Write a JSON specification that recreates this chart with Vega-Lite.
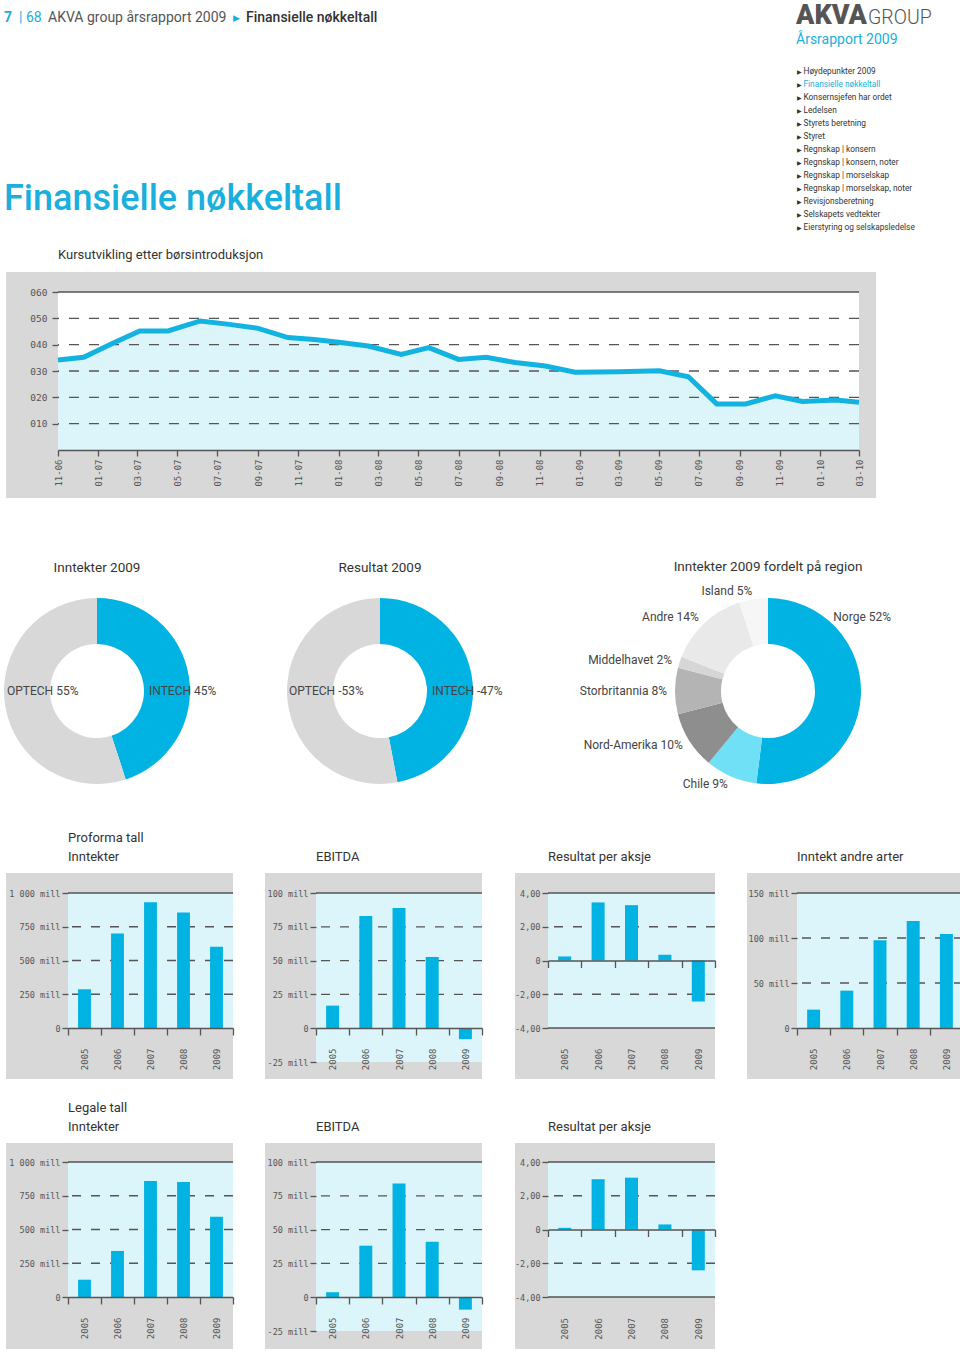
{
"$schema": "https://vega.github.io/schema/vega-lite/v6.json",
"background": "white",
"padding": {"left": 4, "top": 0, "right": 0, "bottom": 0},
"config": {
  "view": {"stroke": null},
  "font": "Roboto",
  "axis": {"labelFont": "DejaVu Sans Mono", "labelColor": "#555555", "tickColor": "#555555", "domainColor": "#555555", "tickWidth": 1.3, "zindex": 1, "grid": false, "labelOverlap": false, "labelFlush": false, "labelBound": false},
  "title": {"font": "Roboto", "fontSize": 13, "color": "#333333", "fontWeight": "normal", "anchor": "start", "frame": "group"},
  "text": {"font": "Roboto"}
},
"datasets": {
  "kurs": [
    {"dato": "2006-11-01", "kurs": 34.2}, {"dato": "2006-12-10", "kurs": 35.2}, {"dato": "2007-01-24", "kurs": 40.6},
    {"dato": "2007-03-05", "kurs": 45.2}, {"dato": "2007-04-17", "kurs": 45.2}, {"dato": "2007-06-05", "kurs": 49.0},
    {"dato": "2007-07-16", "kurs": 47.8}, {"dato": "2007-09-01", "kurs": 46.2}, {"dato": "2007-10-16", "kurs": 42.7},
    {"dato": "2007-11-25", "kurs": 42.0}, {"dato": "2008-01-01", "kurs": 40.9}, {"dato": "2008-02-15", "kurs": 39.5},
    {"dato": "2008-04-05", "kurs": 36.3}, {"dato": "2008-05-17", "kurs": 38.9}, {"dato": "2008-07-01", "kurs": 34.4},
    {"dato": "2008-08-12", "kurs": 35.2}, {"dato": "2008-09-25", "kurs": 33.2}, {"dato": "2008-11-10", "kurs": 31.9},
    {"dato": "2008-12-25", "kurs": 29.5}, {"dato": "2009-03-01", "kurs": 29.7}, {"dato": "2009-05-02", "kurs": 30.1},
    {"dato": "2009-06-15", "kurs": 27.8}, {"dato": "2009-07-28", "kurs": 17.5}, {"dato": "2009-09-10", "kurs": 17.5},
    {"dato": "2009-10-25", "kurs": 20.6}, {"dato": "2009-12-05", "kurs": 18.4}, {"dato": "2010-01-25", "kurs": 19.0},
    {"dato": "2010-03-01", "kurs": 18.1}
  ],
  "meny": [
    {"punkt": "Høydepunkter 2009"}, {"punkt": "Finansielle nøkkeltall"}, {"punkt": "Konsernsjefen har ordet"},
    {"punkt": "Ledelsen"}, {"punkt": "Styrets beretning"}, {"punkt": "Styret"}, {"punkt": "Regnskap | konsern"},
    {"punkt": "Regnskap | konsern, noter"}, {"punkt": "Regnskap | morselskap"}, {"punkt": "Regnskap | morselskap, noter"},
    {"punkt": "Revisjonsberetning"}, {"punkt": "Selskapets vedtekter"}, {"punkt": "Eierstyring og selskapsledelse"}
  ],
  "inntekter2009": [
    {"segment": "INTECH", "andel": 45, "etikett": "INTECH 45%"},
    {"segment": "OPTECH", "andel": 55, "etikett": "OPTECH 55%"}
  ],
  "resultat2009": [
    {"segment": "INTECH", "andel": 47, "etikett": "INTECH -47%"},
    {"segment": "OPTECH", "andel": 53, "etikett": "OPTECH -53%"}
  ],
  "region": [
    {"region": "Norge", "andel": 52, "etikett": "Norge 52%"},
    {"region": "Chile", "andel": 9, "etikett": "Chile 9%"},
    {"region": "Nord-Amerika", "andel": 10, "etikett": "Nord-Amerika 10%"},
    {"region": "Storbritannia", "andel": 8, "etikett": "Storbritannia 8%"},
    {"region": "Middelhavet", "andel": 2, "etikett": "Middelhavet 2%"},
    {"region": "Andre", "andel": 14, "etikett": "Andre 14%"},
    {"region": "Island", "andel": 5, "etikett": "Island 5%"}
  ],
  "proInntekter": [{"aar": "2005", "verdi": 287}, {"aar": "2006", "verdi": 700}, {"aar": "2007", "verdi": 931}, {"aar": "2008", "verdi": 855}, {"aar": "2009", "verdi": 602}],
  "proEbitda": [{"aar": "2005", "verdi": 16.7}, {"aar": "2006", "verdi": 83.0}, {"aar": "2007", "verdi": 88.9}, {"aar": "2008", "verdi": 52.6}, {"aar": "2009", "verdi": -8.1}],
  "proEps": [{"aar": "2005", "verdi": 0.24}, {"aar": "2006", "verdi": 3.44}, {"aar": "2007", "verdi": 3.28}, {"aar": "2008", "verdi": 0.34}, {"aar": "2009", "verdi": -2.43}],
  "proAndre": [{"aar": "2005", "verdi": 20.4}, {"aar": "2006", "verdi": 41.5}, {"aar": "2007", "verdi": 97.4}, {"aar": "2008", "verdi": 118.9}, {"aar": "2009", "verdi": 104.4}],
  "legInntekter": [{"aar": "2005", "verdi": 128}, {"aar": "2006", "verdi": 341}, {"aar": "2007", "verdi": 859}, {"aar": "2008", "verdi": 852}, {"aar": "2009", "verdi": 595}],
  "legEbitda": [{"aar": "2005", "verdi": 3.7}, {"aar": "2006", "verdi": 38.1}, {"aar": "2007", "verdi": 84.1}, {"aar": "2008", "verdi": 41.0}, {"aar": "2009", "verdi": -9.2}],
  "legEps": [{"aar": "2005", "verdi": 0.1}, {"aar": "2006", "verdi": 2.98}, {"aar": "2007", "verdi": 3.07}, {"aar": "2008", "verdi": 0.3}, {"aar": "2009", "verdi": -2.42}]
},
"spacing": 22,
"vconcat": [
 {"spacing": 42, "vconcat": [
  {"spacing": 61, "vconcat": [
   {"spacing": 14, "vconcat": [
    {"spacing": 12, "hconcat": [
     {"spacing": 156, "vconcat": [
      {"spacing": 6, "hconcat": [
       {"width": 1, "height": 8, "data": {"values": []}, "mark": "point", "title": {"text": "7", "orient": "bottom", "baseline": "top", "offset": 3, "fontSize": 14, "fontWeight": "bold", "color": "#1aafdc"}},
       {"width": 1, "height": 8, "data": {"values": []}, "mark": "point", "title": {"text": "| 68", "orient": "bottom", "baseline": "top", "offset": 3, "fontSize": 14, "color": "#1aafdc"}},
       {"width": 1, "height": 8, "data": {"values": []}, "mark": "point", "title": {"text": "AKVA group årsrapport 2009", "orient": "bottom", "baseline": "top", "offset": 3, "fontSize": 14, "color": "#555555"}},
       {"width": 1, "height": 8, "data": {"values": []}, "mark": "point", "title": {"text": "▶", "orient": "bottom", "baseline": "top", "offset": 6, "fontSize": 9, "color": "#1aafdc"}},
       {"width": 1, "height": 8, "data": {"values": []}, "mark": "point", "title": {"text": "Finansielle nøkkeltall", "orient": "bottom", "baseline": "top", "offset": 3, "fontSize": 14, "fontWeight": 500, "color": "#333333"}}
      ]},
      {"width": 780, "height": 1, "data": {"values": []}, "mark": "point", "title": {"text": "Finansielle nøkkeltall", "fontSize": 36, "fontWeight": 500, "color": "#1aafdc", "offset": 2}}
     ]},
     {"spacing": 4, "vconcat": [
      {"spacing": 1, "hconcat": [
       {"width": 1, "height": 1, "data": {"values": []}, "mark": "point", "title": {"text": "AKVA", "orient": "bottom", "baseline": "top", "fontSize": 27, "fontWeight": 900, "color": "#555555", "offset": 2}},
       {"width": 1, "height": 1, "data": {"values": []}, "mark": "point", "title": {"text": "GROUP", "orient": "bottom", "baseline": "top", "fontSize": 19.5, "fontWeight": 300, "color": "#555555", "offset": 7.5}}
      ]},
      {"width": 1, "height": 169,
       "title": {"text": "Årsrapport 2009", "fontSize": 14, "color": "#1aafdc", "offset": 18},
       "data": {"name": "meny"},
       "layer": [
        {"mark": {"type": "text", "text": "▶", "fontSize": 6, "align": "left", "baseline": "middle", "color": "#333333"},
         "encoding": {"y": {"field": "punkt", "type": "nominal", "sort": null, "axis": null}}},
        {"mark": {"type": "text", "fontSize": 8.3, "align": "left", "baseline": "middle", "dx": 7},
         "encoding": {"y": {"field": "punkt", "type": "nominal", "sort": null, "axis": null},
                      "text": {"field": "punkt", "type": "nominal"},
                      "color": {"condition": {"test": "datum.punkt == 'Finansielle nøkkeltall'", "value": "#1aafdc"}, "value": "#333333"}}}
       ]}
     ]}
    ]},
    {"spacing": 0, "hconcat": [
     {"width": 1, "height": 1, "data": {"values": []}, "mark": "point"},
     {"width": 801, "height": 158,
      "title": {"text": "Kursutvikling etter børsintroduksjon", "offset": 10, "fontSize": 13},
      "layer": [
       {"data": {"values": [{}]}, "mark": {"type": "rect", "color": "#d8d8d8"},
        "encoding": {
         "x": {"datum": {"year": 2006, "month": 8, "date": 14, "utc": true}, "type": "temporal", "title": null,
               "scale": {"type": "utc", "nice": false, "domain": [{"year": 2006, "month": 11, "date": 1, "utc": true}, {"year": 2010, "month": 3, "date": 1, "utc": true}]}},
         "x2": {"datum": {"year": 2010, "month": 3, "date": 27, "utc": true}},
         "y": {"datum": -18.2, "type": "quantitative", "title": null, "scale": {"domain": [0, 60], "nice": false}},
         "y2": {"datum": 67.6}}},
       {"data": {"values": [{}]}, "mark": {"type": "rect", "color": "#ffffff"},
        "encoding": {"y": {"datum": 0, "type": "quantitative"}, "y2": {"datum": 60}}},
       {"data": {"name": "kurs"}, "mark": {"type": "area", "color": "#dcf5fa"},
        "encoding": {"x": {"field": "dato", "type": "temporal", "title": null}, "y": {"field": "kurs", "type": "quantitative", "title": null}}},
       {"data": {"values": [{}]}, "mark": {"type": "rule", "color": "#555555", "strokeWidth": 1.3, "strokeDash": [10, 10]}, "encoding": {"y": {"datum": 10}}},
       {"data": {"values": [{}]}, "mark": {"type": "rule", "color": "#555555", "strokeWidth": 1.3, "strokeDash": [10, 10]}, "encoding": {"y": {"datum": 20}}},
       {"data": {"values": [{}]}, "mark": {"type": "rule", "color": "#555555", "strokeWidth": 1.3, "strokeDash": [10, 10]}, "encoding": {"y": {"datum": 30}}},
       {"data": {"values": [{}]}, "mark": {"type": "rule", "color": "#555555", "strokeWidth": 1.3, "strokeDash": [10, 10]}, "encoding": {"y": {"datum": 40}}},
       {"data": {"values": [{}]}, "mark": {"type": "rule", "color": "#555555", "strokeWidth": 1.3, "strokeDash": [10, 10]}, "encoding": {"y": {"datum": 50}}},
       {"data": {"values": [{}]}, "mark": {"type": "rule", "color": "#555555", "strokeWidth": 1.5}, "encoding": {"y": {"datum": 60}}},
       {"data": {"name": "kurs"}, "mark": {"type": "line", "color": "#12b3e1", "strokeWidth": 5},
        "encoding": {
         "x": {"field": "dato", "type": "temporal",
               "scale": {"type": "utc", "nice": false, "domain": [{"year": 2006, "month": 11, "date": 1, "utc": true}, {"year": 2010, "month": 3, "date": 1, "utc": true}]},
               "axis": {"zindex": 1, "labelExpr": "utcFormat(datum.value, '%m-%y')", "tickCount": {"interval": "month", "step": 2}, "labelAngle": 270, "labelPadding": 3, "tickSize": 6, "labelFontSize": 9, "domainWidth": 1.5, "labelFlush": false, "labelOverlap": false, "labelBound": false, "title": null}},
         "y": {"field": "kurs", "type": "quantitative", "scale": {"domain": [0, 60], "nice": false},
               "axis": {"zindex": 1, "values": [10, 20, 30, 40, 50, 60], "tickCount": 50, "format": "03d", "tickSize": 6, "labelPadding": 5, "domain": false, "labelFontSize": 9.5, "title": null}}}}
      ]}
    ]}
   ]},
   {"spacing": 0, "bounds": "flush", "resolve": {"scale": {"color": "independent", "theta": "independent"}}, "hconcat": [
    {"width": 186, "height": 188,
     "title": {"text": "Inntekter 2009", "anchor": "middle", "offset": 23, "fontSize": 13.5},
     "data": {"name": "inntekter2009"},
     "transform": [{"window": [{"op": "row_number", "as": "rekke"}]}],
     "layer": [
      {"mark": {"type": "arc", "outerRadius": 93, "innerRadius": 47},
       "encoding": {"theta": {"field": "andel", "type": "quantitative", "stack": true}, "order": {"field": "rekke", "type": "quantitative"},
                    "color": {"field": "segment", "type": "nominal", "scale": {"domain": ["INTECH", "OPTECH"], "range": ["#00b3e2", "#d8d8d8"]}, "legend": null}}},
      {"transform": [{"filter": "datum.segment == 'OPTECH'"}],
       "mark": {"type": "text", "theta": 4.7124, "radius": 90, "align": "left", "baseline": "middle", "fontSize": 12, "color": "#444444"},
       "encoding": {"text": {"field": "etikett", "type": "nominal"}}},
      {"transform": [{"filter": "datum.segment == 'INTECH'"}],
       "mark": {"type": "text", "theta": 1.5708, "radius": 52, "align": "left", "baseline": "middle", "fontSize": 12, "color": "#444444"},
       "encoding": {"text": {"field": "etikett", "type": "nominal"}}}
     ]},
    {"width": 380, "height": 188,
     "title": {"text": "Resultat 2009", "anchor": "middle", "offset": 23, "fontSize": 13.5},
     "data": {"name": "resultat2009"},
     "transform": [{"window": [{"op": "row_number", "as": "rekke"}]}],
     "layer": [
      {"mark": {"type": "arc", "outerRadius": 93, "innerRadius": 47},
       "encoding": {"theta": {"field": "andel", "type": "quantitative", "stack": true}, "order": {"field": "rekke", "type": "quantitative"},
                    "color": {"field": "segment", "type": "nominal", "scale": {"domain": ["INTECH", "OPTECH"], "range": ["#00b3e2", "#d8d8d8"]}, "legend": null}}},
      {"transform": [{"filter": "datum.segment == 'OPTECH'"}],
       "mark": {"type": "text", "theta": 4.7124, "radius": 91, "align": "left", "baseline": "middle", "fontSize": 12, "color": "#444444"},
       "encoding": {"text": {"field": "etikett", "type": "nominal"}}},
      {"transform": [{"filter": "datum.segment == 'INTECH'"}],
       "mark": {"type": "text", "theta": 1.5708, "radius": 52, "align": "left", "baseline": "middle", "fontSize": 12, "color": "#444444"},
       "encoding": {"text": {"field": "etikett", "type": "nominal"}}}
     ]},
    {"width": 396, "height": 188,
     "title": {"text": "Inntekter 2009 fordelt på region", "anchor": "middle", "offset": 12, "fontSize": 13.5},
     "data": {"name": "region"},
     "transform": [{"window": [{"op": "row_number", "as": "rekke"}]}],
     "layer": [
      {"mark": {"type": "arc", "outerRadius": 93, "innerRadius": 47},
       "encoding": {"theta": {"field": "andel", "type": "quantitative", "stack": true}, "order": {"field": "rekke", "type": "quantitative"},
                    "color": {"field": "region", "type": "nominal", "legend": null,
                              "scale": {"domain": ["Norge", "Chile", "Nord-Amerika", "Storbritannia", "Middelhavet", "Andre", "Island"],
                                        "range": ["#00b3e2", "#6fe0f5", "#8e8e8e", "#b4b4b4", "#d6d6d6", "#e9e9e9", "#f6f6f6"]}}}},
      {"mark": {"type": "text", "radius": 101, "align": "right", "baseline": "middle", "fontSize": 12, "color": "#444444"},
       "encoding": {"theta": {"field": "andel", "type": "quantitative", "stack": true}, "order": {"field": "rekke", "type": "quantitative"},
                    "text": {"condition": {"test": "datum.region == 'Norge'", "value": ""}, "field": "etikett", "type": "nominal"}}},
      {"transform": [{"filter": "datum.region == 'Norge'"}],
       "mark": {"type": "text", "theta": 0.72, "radius": 99, "align": "left", "baseline": "middle", "fontSize": 12, "color": "#444444"},
       "encoding": {"text": {"field": "etikett", "type": "nominal"}}}
     ]}
   ]}
  ]},
  {"spacing": 0, "hconcat": [
   {"width": 1, "height": 1, "data": {"values": []}, "mark": "point"},
   {"spacing": 31, "hconcat": [
   {"width": 165, "height": 135,
    "title": {"text": ["Proforma tall", "Inntekter"], "offset": 9, "lineHeight": 19},
    "resolve": {"scale": {"x": "independent"}},
    "layer": [
     {"data": {"values": [{}]}, "mark": {"type": "rect", "color": "#d8d8d8"},
      "encoding": {"x": {"datum": -0.3758, "type": "quantitative", "scale": {"domain": [0, 1]}, "axis": null}, "x2": {"datum": 1},
                   "y": {"datum": -377.8, "type": "quantitative", "title": null, "scale": {"domain": [0, 1000], "nice": false}}, "y2": {"datum": 1148.1}}},
     {"data": {"values": [{}]}, "mark": {"type": "rect", "color": "#dcf5fa"}, "encoding": {"y": {"datum": 0, "type": "quantitative"}, "y2": {"datum": 1000}}},
     {"data": {"values": [{}]}, "mark": {"type": "rule", "color": "#555555", "strokeWidth": 1.3, "strokeDash": [9, 10]}, "encoding": {"y": {"datum": 250}}},
     {"data": {"values": [{}]}, "mark": {"type": "rule", "color": "#555555", "strokeWidth": 1.3, "strokeDash": [9, 10]}, "encoding": {"y": {"datum": 500}}},
     {"data": {"values": [{}]}, "mark": {"type": "rule", "color": "#555555", "strokeWidth": 1.3, "strokeDash": [9, 10]}, "encoding": {"y": {"datum": 750}}},
     {"data": {"values": [{}]}, "mark": {"type": "rule", "color": "#555555", "strokeWidth": 1.5}, "encoding": {"y": {"datum": 1000}}},
     {"data": {"name": "proInntekter"}, "mark": {"type": "bar", "color": "#00b3e2", "width": {"band": 0.39}},
      "encoding": {
       "x": {"field": "aar", "type": "ordinal", "scale": {"paddingInner": 0, "paddingOuter": 0},
             "axis": {"zindex": 1, "tickBand": "extent", "tickSize": 7, "labelAngle": 270, "labelPadding": 13, "labelFontSize": 9, "domainWidth": 1.5, "title": null}},
       "y": {"field": "verdi", "type": "quantitative", "scale": {"domain": [0, 1000], "nice": false},
             "axis": {"zindex": 1, "values": [0, 250, 500, 750, 1000], "tickCount": 50, "labelExpr": "datum.value == 0 ? '0' : replace(format(datum.value, ','), ',', ' ') + ' mill'", "tickSize": 6, "labelPadding": 2, "domain": false, "labelFontSize": 8.5, "title": null}}}}
    ]},
   {"width": 166, "height": 169,
    "title": {"text": "EBITDA", "offset": 9},
    "resolve": {"scale": {"x": "independent"}},
    "layer": [
     {"data": {"values": [{}]}, "mark": {"type": "rect", "color": "#d8d8d8"},
      "encoding": {"x": {"datum": -0.3072, "type": "quantitative", "scale": {"domain": [0, 1]}, "axis": null}, "x2": {"datum": 1},
                   "y": {"datum": -37.6, "type": "quantitative", "title": null, "scale": {"domain": [-25, 100], "nice": false}}, "y2": {"datum": 114.8}}},
     {"data": {"values": [{}]}, "mark": {"type": "rect", "color": "#dcf5fa"}, "encoding": {"y": {"datum": -25, "type": "quantitative"}, "y2": {"datum": 100}}},
     {"data": {"values": [{}]}, "mark": {"type": "rule", "color": "#555555", "strokeWidth": 1.3, "strokeDash": [9, 10]}, "encoding": {"y": {"datum": 25}}},
     {"data": {"values": [{}]}, "mark": {"type": "rule", "color": "#555555", "strokeWidth": 1.3, "strokeDash": [9, 10]}, "encoding": {"y": {"datum": 50}}},
     {"data": {"values": [{}]}, "mark": {"type": "rule", "color": "#555555", "strokeWidth": 1.3, "strokeDash": [9, 10]}, "encoding": {"y": {"datum": 75}}},
     {"data": {"values": [{}]}, "mark": {"type": "rule", "color": "#555555", "strokeWidth": 1.5}, "encoding": {"y": {"datum": 100}}},
     {"data": {"name": "proEbitda"}, "mark": {"type": "bar", "color": "#00b3e2", "width": {"band": 0.39}},
      "encoding": {
       "x": {"field": "aar", "type": "ordinal", "scale": {"paddingInner": 0, "paddingOuter": 0},
             "axis": {"zindex": 1, "tickBand": "extent", "tickSize": 7, "labelAngle": 270, "labelPadding": 13, "labelFontSize": 9, "domainWidth": 1.5, "offset": -34, "title": null}},
       "y": {"field": "verdi", "type": "quantitative", "scale": {"domain": [-25, 100], "nice": false},
             "axis": {"zindex": 1, "values": [-25, 0, 25, 50, 75, 100], "tickCount": 50, "labelExpr": "datum.value == 0 ? '0' : datum.value + ' mill'", "tickSize": 6, "labelPadding": 2, "domain": false, "labelFontSize": 8.5, "title": null}}}}
    ]},
   {"width": 167, "height": 135,
    "title": {"text": "Resultat per aksje", "offset": 9},
    "resolve": {"scale": {"x": "independent"}},
    "layer": [
     {"data": {"values": [{}]}, "mark": {"type": "rect", "color": "#d8d8d8"},
      "encoding": {"x": {"datum": -0.1976, "type": "quantitative", "scale": {"domain": [0, 1]}, "axis": null}, "x2": {"datum": 1},
                   "y": {"datum": -7.022, "type": "quantitative", "title": null, "scale": {"domain": [-4, 4], "nice": false}}, "y2": {"datum": 5.185}}},
     {"data": {"values": [{}]}, "mark": {"type": "rect", "color": "#dcf5fa"}, "encoding": {"y": {"datum": -4, "type": "quantitative"}, "y2": {"datum": 4}}},
     {"data": {"values": [{}]}, "mark": {"type": "rule", "color": "#555555", "strokeWidth": 1.3, "strokeDash": [9, 10]}, "encoding": {"y": {"datum": -2}}},
     {"data": {"values": [{}]}, "mark": {"type": "rule", "color": "#555555", "strokeWidth": 1.3, "strokeDash": [9, 10]}, "encoding": {"y": {"datum": 2}}},
     {"data": {"values": [{}]}, "mark": {"type": "rule", "color": "#555555", "strokeWidth": 1.5}, "encoding": {"y": {"datum": 4}}},
     {"data": {"values": [{}]}, "mark": {"type": "rule", "color": "#555555", "strokeWidth": 1.5}, "encoding": {"y": {"datum": -4}}},
     {"data": {"name": "proEps"}, "mark": {"type": "bar", "color": "#00b3e2", "width": {"band": 0.39}},
      "encoding": {
       "x": {"field": "aar", "type": "ordinal", "scale": {"paddingInner": 0, "paddingOuter": 0},
             "axis": {"zindex": 1, "tickBand": "extent", "tickSize": 7, "labelAngle": 270, "labelPadding": 80.5, "labelFontSize": 9, "domainWidth": 1.5, "offset": -67.5, "title": null}},
       "y": {"field": "verdi", "type": "quantitative", "scale": {"domain": [-4, 4], "nice": false},
             "axis": {"zindex": 1, "values": [-4, -2, 0, 2, 4], "tickCount": 50, "labelExpr": "datum.value == 0 ? '0' : replace(replace(format(datum.value, '.2f'), '.', ','), '\u2212', '-')", "tickSize": 6, "labelPadding": 2, "domain": false, "labelFontSize": 8.5, "title": null}}}}
    ]},
   {"width": 166, "height": 135,
    "title": {"text": "Inntekt andre arter", "offset": 9},
    "resolve": {"scale": {"x": "independent"}},
    "layer": [
     {"data": {"values": [{}]}, "mark": {"type": "rect", "color": "#d8d8d8"},
      "encoding": {"x": {"datum": -0.3012, "type": "quantitative", "scale": {"domain": [0, 1]}, "axis": null}, "x2": {"datum": 1},
                   "y": {"datum": -56.7, "type": "quantitative", "title": null, "scale": {"domain": [0, 150], "nice": false}}, "y2": {"datum": 172.2}}},
     {"data": {"values": [{}]}, "mark": {"type": "rect", "color": "#dcf5fa"}, "encoding": {"y": {"datum": 0, "type": "quantitative"}, "y2": {"datum": 150}}},
     {"data": {"values": [{}]}, "mark": {"type": "rule", "color": "#555555", "strokeWidth": 1.3, "strokeDash": [9, 10]}, "encoding": {"y": {"datum": 50}}},
     {"data": {"values": [{}]}, "mark": {"type": "rule", "color": "#555555", "strokeWidth": 1.3, "strokeDash": [9, 10]}, "encoding": {"y": {"datum": 100}}},
     {"data": {"values": [{}]}, "mark": {"type": "rule", "color": "#555555", "strokeWidth": 1.5}, "encoding": {"y": {"datum": 150}}},
     {"data": {"name": "proAndre"}, "mark": {"type": "bar", "color": "#00b3e2", "width": {"band": 0.39}},
      "encoding": {
       "x": {"field": "aar", "type": "ordinal", "scale": {"paddingInner": 0, "paddingOuter": 0},
             "axis": {"zindex": 1, "tickBand": "extent", "tickSize": 7, "labelAngle": 270, "labelPadding": 13, "labelFontSize": 9, "domainWidth": 1.5, "title": null}},
       "y": {"field": "verdi", "type": "quantitative", "scale": {"domain": [0, 150], "nice": false},
             "axis": {"zindex": 1, "values": [0, 50, 100, 150], "tickCount": 50, "labelExpr": "datum.value == 0 ? '0' : datum.value + ' mill'", "tickSize": 6, "labelPadding": 2, "domain": false, "labelFontSize": 8.5, "title": null}}}}
    ]}
   ]}
  ]}
 ]},
 {"spacing": 0, "hconcat": [
  {"width": 1, "height": 1, "data": {"values": []}, "mark": "point"},
  {"spacing": 31, "hconcat": [
  {"width": 165, "height": 135,
   "title": {"text": ["Legale tall", "Inntekter"], "offset": 9, "lineHeight": 19},
   "resolve": {"scale": {"x": "independent"}},
   "layer": [
    {"data": {"values": [{}]}, "mark": {"type": "rect", "color": "#d8d8d8"},
     "encoding": {"x": {"datum": -0.3758, "type": "quantitative", "scale": {"domain": [0, 1]}, "axis": null}, "x2": {"datum": 1},
                  "y": {"datum": -385.2, "type": "quantitative", "title": null, "scale": {"domain": [0, 1000], "nice": false}}, "y2": {"datum": 1140.7}}},
    {"data": {"values": [{}]}, "mark": {"type": "rect", "color": "#dcf5fa"}, "encoding": {"y": {"datum": 0, "type": "quantitative"}, "y2": {"datum": 1000}}},
    {"data": {"values": [{}]}, "mark": {"type": "rule", "color": "#555555", "strokeWidth": 1.3, "strokeDash": [9, 10]}, "encoding": {"y": {"datum": 250}}},
    {"data": {"values": [{}]}, "mark": {"type": "rule", "color": "#555555", "strokeWidth": 1.3, "strokeDash": [9, 10]}, "encoding": {"y": {"datum": 500}}},
    {"data": {"values": [{}]}, "mark": {"type": "rule", "color": "#555555", "strokeWidth": 1.3, "strokeDash": [9, 10]}, "encoding": {"y": {"datum": 750}}},
    {"data": {"values": [{}]}, "mark": {"type": "rule", "color": "#555555", "strokeWidth": 1.5}, "encoding": {"y": {"datum": 1000}}},
    {"data": {"name": "legInntekter"}, "mark": {"type": "bar", "color": "#00b3e2", "width": {"band": 0.39}},
     "encoding": {
      "x": {"field": "aar", "type": "ordinal", "scale": {"paddingInner": 0, "paddingOuter": 0},
            "axis": {"zindex": 1, "tickBand": "extent", "tickSize": 7, "labelAngle": 270, "labelPadding": 13, "labelFontSize": 9, "domainWidth": 1.5, "title": null}},
      "y": {"field": "verdi", "type": "quantitative", "scale": {"domain": [0, 1000], "nice": false},
            "axis": {"zindex": 1, "values": [0, 250, 500, 750, 1000], "tickCount": 50, "labelExpr": "datum.value == 0 ? '0' : replace(format(datum.value, ','), ',', ' ') + ' mill'", "tickSize": 6, "labelPadding": 2, "domain": false, "labelFontSize": 8.5, "title": null}}}}
   ]},
  {"width": 166, "height": 169,
   "title": {"text": "EBITDA", "offset": 9},
   "resolve": {"scale": {"x": "independent"}},
   "layer": [
    {"data": {"values": [{}]}, "mark": {"type": "rect", "color": "#d8d8d8"},
     "encoding": {"x": {"datum": -0.3072, "type": "quantitative", "scale": {"domain": [0, 1]}, "axis": null}, "x2": {"datum": 1},
                  "y": {"datum": -38.3, "type": "quantitative", "title": null, "scale": {"domain": [-25, 100], "nice": false}}, "y2": {"datum": 114.05}}},
    {"data": {"values": [{}]}, "mark": {"type": "rect", "color": "#dcf5fa"}, "encoding": {"y": {"datum": -25, "type": "quantitative"}, "y2": {"datum": 100}}},
    {"data": {"values": [{}]}, "mark": {"type": "rule", "color": "#555555", "strokeWidth": 1.3, "strokeDash": [9, 10]}, "encoding": {"y": {"datum": 25}}},
    {"data": {"values": [{}]}, "mark": {"type": "rule", "color": "#555555", "strokeWidth": 1.3, "strokeDash": [9, 10]}, "encoding": {"y": {"datum": 50}}},
    {"data": {"values": [{}]}, "mark": {"type": "rule", "color": "#555555", "strokeWidth": 1.3, "strokeDash": [9, 10]}, "encoding": {"y": {"datum": 75}}},
    {"data": {"values": [{}]}, "mark": {"type": "rule", "color": "#555555", "strokeWidth": 1.5}, "encoding": {"y": {"datum": 100}}},
    {"data": {"name": "legEbitda"}, "mark": {"type": "bar", "color": "#00b3e2", "width": {"band": 0.39}},
     "encoding": {
      "x": {"field": "aar", "type": "ordinal", "scale": {"paddingInner": 0, "paddingOuter": 0},
            "axis": {"zindex": 1, "tickBand": "extent", "tickSize": 7, "labelAngle": 270, "labelPadding": 13, "labelFontSize": 9, "domainWidth": 1.5, "offset": -34, "title": null}},
      "y": {"field": "verdi", "type": "quantitative", "scale": {"domain": [-25, 100], "nice": false},
            "axis": {"zindex": 1, "values": [-25, 0, 25, 50, 75, 100], "tickCount": 50, "labelExpr": "datum.value == 0 ? '0' : datum.value + ' mill'", "tickSize": 6, "labelPadding": 2, "domain": false, "labelFontSize": 8.5, "title": null}}}}
   ]},
  {"width": 167, "height": 135,
   "title": {"text": "Resultat per aksje", "offset": 9},
   "resolve": {"scale": {"x": "independent"}},
   "layer": [
    {"data": {"values": [{}]}, "mark": {"type": "rect", "color": "#d8d8d8"},
     "encoding": {"x": {"datum": -0.1976, "type": "quantitative", "scale": {"domain": [0, 1]}, "axis": null}, "x2": {"datum": 1},
                  "y": {"datum": -7.081, "type": "quantitative", "title": null, "scale": {"domain": [-4, 4], "nice": false}}, "y2": {"datum": 5.126}}},
    {"data": {"values": [{}]}, "mark": {"type": "rect", "color": "#dcf5fa"}, "encoding": {"y": {"datum": -4, "type": "quantitative"}, "y2": {"datum": 4}}},
    {"data": {"values": [{}]}, "mark": {"type": "rule", "color": "#555555", "strokeWidth": 1.3, "strokeDash": [9, 10]}, "encoding": {"y": {"datum": -2}}},
    {"data": {"values": [{}]}, "mark": {"type": "rule", "color": "#555555", "strokeWidth": 1.3, "strokeDash": [9, 10]}, "encoding": {"y": {"datum": 2}}},
    {"data": {"values": [{}]}, "mark": {"type": "rule", "color": "#555555", "strokeWidth": 1.5}, "encoding": {"y": {"datum": 4}}},
    {"data": {"values": [{}]}, "mark": {"type": "rule", "color": "#555555", "strokeWidth": 1.5}, "encoding": {"y": {"datum": -4}}},
    {"data": {"name": "legEps"}, "mark": {"type": "bar", "color": "#00b3e2", "width": {"band": 0.39}},
     "encoding": {
      "x": {"field": "aar", "type": "ordinal", "scale": {"paddingInner": 0, "paddingOuter": 0},
            "axis": {"zindex": 1, "tickBand": "extent", "tickSize": 7, "labelAngle": 270, "labelPadding": 81, "labelFontSize": 9, "domainWidth": 1.5, "offset": -67.5, "title": null}},
      "y": {"field": "verdi", "type": "quantitative", "scale": {"domain": [-4, 4], "nice": false},
            "axis": {"zindex": 1, "values": [-4, -2, 0, 2, 4], "tickCount": 50, "labelExpr": "datum.value == 0 ? '0' : replace(replace(format(datum.value, '.2f'), '.', ','), '\u2212', '-')", "tickSize": 6, "labelPadding": 2, "domain": false, "labelFontSize": 8.5, "title": null}}}}
   ]}
  ]}
 ]}
]
}
